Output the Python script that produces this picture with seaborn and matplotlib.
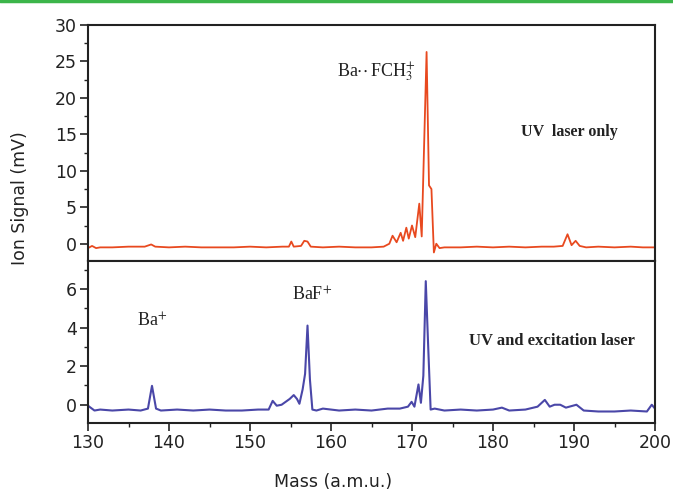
import matplotlib
matplotlib.use("Agg")
import matplotlib.pyplot as plt
from matplotlib.ticker import MultipleLocator
from matplotlib.lines import Line2D
import seaborn as sns
import pandas as pd

# ---- data ----
mass_top = [130, 130.5, 131, 131.5, 133, 135, 137, 137.8, 138.3, 140,
            142, 144, 146, 148, 150, 152, 154, 154.8, 155.1, 155.4,
            156.3, 156.7, 157.1, 157.5, 159, 161, 163, 165, 166.5, 167.2,
            167.6, 168.1, 168.6, 168.9, 169.3, 169.6, 170.0, 170.4, 170.9, 171.2,
            171.5, 171.8, 172.1, 172.4, 172.7, 173.0, 173.4, 174, 176, 178,
            180, 182, 184, 186, 187.5, 188.6, 189.2, 189.7, 190.2, 190.7,
            191.5, 193, 195, 197, 198.5, 200]
signal_top = [-0.6, -0.3, -0.6, -0.5, -0.5, -0.4, -0.4, -0.1, -0.4, -0.5,
              -0.4, -0.5, -0.5, -0.5, -0.4, -0.5, -0.4, -0.4, 0.3, -0.4,
              -0.3, 0.4, 0.3, -0.4, -0.5, -0.4, -0.5, -0.5, -0.4, 0.0,
              1.1, 0.2, 1.5, 0.4, 2.2, 0.7, 2.5, 0.9, 5.5, 1.0,
              13.7, 26.3, 8.0, 7.5, -1.2, 0.0, -0.6, -0.5, -0.5, -0.4,
              -0.5, -0.4, -0.5, -0.4, -0.4, -0.3, 1.3, -0.2, 0.4, -0.3,
              -0.5, -0.4, -0.5, -0.4, -0.5, -0.5]

mass_bot = [130, 130.8, 131.5, 133, 135, 136.5, 137.4, 137.9, 138.4, 139,
            141, 143, 145, 147, 149, 151, 152.3, 152.8, 153.3, 153.9,
            154.4, 154.9, 155.4, 155.8, 156.1, 156.5, 156.8, 157.1, 157.4, 157.7,
            158.2, 159, 161, 163, 165, 167, 168.5, 169.5, 169.95, 170.3,
            170.8, 171.1, 171.4, 171.7, 172.0, 172.3, 172.8, 174, 176, 178,
            180, 181.1, 182, 184, 185.5, 186.4, 187.0, 187.6, 188.3, 189.0,
            190.3, 191.2, 193, 195, 197, 199, 199.6, 200]
signal_bot = [-0.05, -0.3, -0.25, -0.3, -0.25, -0.3, -0.2, 0.98, -0.2, -0.3,
              -0.25, -0.3, -0.25, -0.3, -0.3, -0.25, -0.25, 0.2, -0.05, 0.0,
              0.15, 0.3, 0.5, 0.3, 0.05, 0.8, 1.6, 4.1, 1.3, -0.25,
              -0.3, -0.2, -0.3, -0.25, -0.3, -0.2, -0.2, -0.1, 0.15, -0.1,
              1.05, 0.1, 1.5, 6.4, 3.0, -0.25, -0.2, -0.3, -0.25, -0.3,
              -0.25, -0.15, -0.3, -0.25, -0.1, 0.25, -0.1, 0.0, 0.0, -0.15,
              0.0, -0.3, -0.35, -0.35, -0.3, -0.35, 0.0, -0.2]

x_ticks = [130, 140, 150, 160, 170, 180, 190, 200]
y_ticks_top = [0, 5, 10, 15, 20, 25, 30]
y_ticks_bot = [0, 2, 4, 6]

df_top = pd.DataFrame({"mass": mass_top, "signal": signal_top})
df_bot = pd.DataFrame({"mass": mass_bot, "signal": signal_bot})

sns.set_theme(style="ticks")
plt.rcParams["font.family"] = ["DejaVu Sans"]
plt.rcParams["mathtext.fontset"] = "stix"

W, H = 673, 494
fig = plt.figure(figsize=(W / 100, H / 100), dpi=100)
left, right = 88 / W, 655 / W
y_top, y_mid, y_bot = 1 - 25 / H, 1 - 260.5 / H, 1 - 422.5 / H
ax1 = fig.add_axes([left, y_mid, right - left, y_top - y_mid])
ax2 = fig.add_axes([left, y_bot, right - left, y_mid - y_bot], sharex=ax1)

sns.lineplot(data=df_top, x="mass", y="signal", ax=ax1, color="#e8491f",
             linewidth=1.3, estimator=None, sort=False)
sns.lineplot(data=df_bot, x="mass", y="signal", ax=ax2, color="#4a47a8",
             linewidth=1.5, estimator=None, sort=False)

ax1.set_xlim(130, 200)
ax1.set_ylim(-2.3, 30)
ax2.set_ylim(-0.92, 7.47)

ax2.set_xticks(x_ticks)
ax2.xaxis.set_minor_locator(MultipleLocator(5))
ax1.set_yticks(y_ticks_top)
ax1.yaxis.set_minor_locator(MultipleLocator(2.5))
ax2.set_yticks(y_ticks_bot)
ax2.yaxis.set_minor_locator(MultipleLocator(1))

for ax in (ax1, ax2):
    ax.set_xlabel("")
    ax.set_ylabel("")
    for sp in ax.spines.values():
        sp.set_visible(True)
        sp.set_linewidth(1.5)
        sp.set_color("#222222")
    ax.tick_params(axis="both", which="major", direction="out", length=6,
                   width=1.2, color="#222222", labelsize=12.5, labelcolor="#222222",
                   pad=2)
    ax.tick_params(axis="both", which="minor", direction="out", length=3,
                   width=1.0, color="#222222")
    ax.tick_params(top=False, right=False, which="both")
ax1.tick_params(axis="x", labelbottom=False)

fig.text(333 / W, 1 - 482 / H, "Mass (a.m.u.)", ha="center", va="center",
         fontsize=12.5, color="#222222")
fig.text(20 / W, 1 - 198 / H, "Ion Signal (mV)", ha="center", va="center",
         rotation=90, fontsize=12.5, color="#222222")

serif = "Liberation Serif"
ax1.text(376 / W, 1 - 72 / H, r"Ba$\cdot\!\cdot$FCH$_3^{\!+}$", transform=fig.transFigure,
         ha="center", va="center", fontsize=13, family=serif, color="#222222")
ax1.text(569 / W, 1 - 132 / H, "UV  laser only", transform=fig.transFigure,
         ha="center", va="center", fontsize=11.5, family=serif, color="#222222",
         fontweight="bold")
ax2.text(152 / W, 1 - 321 / H, r"Ba$^{+}$", transform=fig.transFigure,
         ha="center", va="center", fontsize=13, family=serif, color="#222222")
ax2.text(312 / W, 1 - 295 / H, r"BaF$^{+}$", transform=fig.transFigure,
         ha="center", va="center", fontsize=13, family=serif, color="#222222")
ax2.text(552 / W, 1 - 341 / H, "UV and excitation laser", transform=fig.transFigure,
         ha="center", va="center", fontsize=12, family=serif, color="#222222",
         fontweight="bold")

fig.add_artist(Line2D([0, 1], [1 - 1 / H, 1 - 1 / H], transform=fig.transFigure,
                      color="#3cb54a", linewidth=2.5))

fig.savefig("out.png", dpi=100)
